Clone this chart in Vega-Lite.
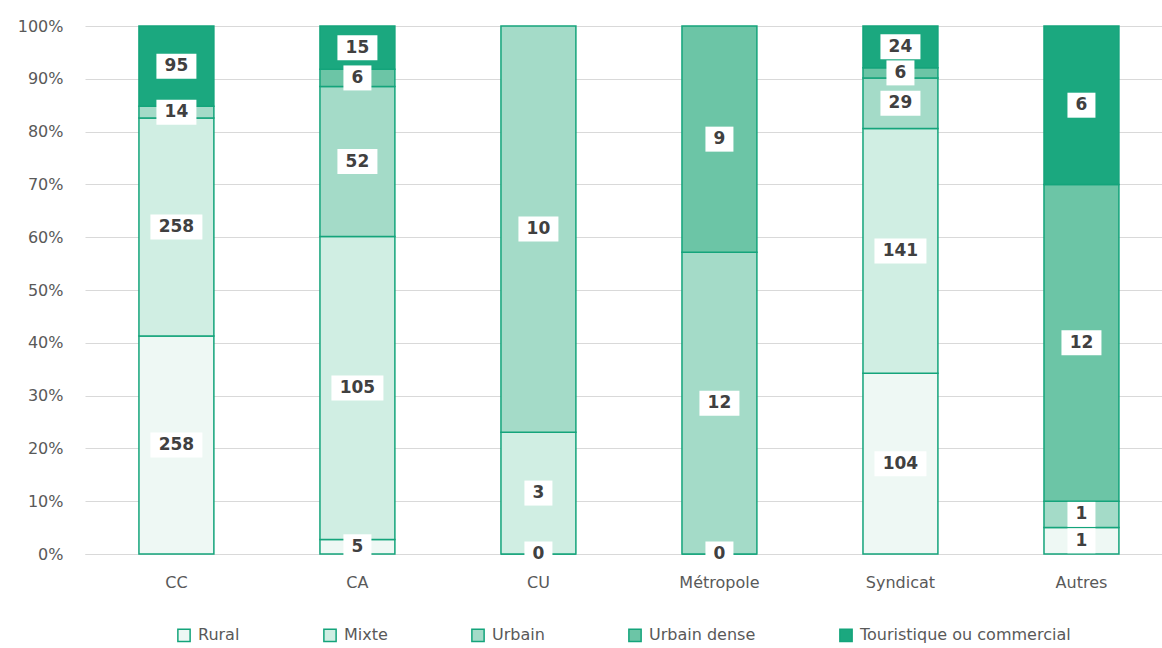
{
  "$schema": "https://vega.github.io/schema/vega-lite/v6.json",
  "width": 1077,
  "height": 528,
  "autosize": {"type": "none"},
  "padding": {"left": 85, "top": 26, "right": 0, "bottom": 94},
  "background": "white",
  "config": {
    "view": {"stroke": null},
    "font": "DejaVu Sans",
    "axis": {"labelFont": "DejaVu Sans", "labelColor": "#595959", "labelFontSize": 16}
  },
  "data": {
    "values": [
      {"type": "CC", "serie": "Rural", "ordre": 1, "value": 258},
      {"type": "CC", "serie": "Mixte", "ordre": 2, "value": 258},
      {"type": "CC", "serie": "Urbain", "ordre": 3, "value": 14},
      {"type": "CC", "serie": "Touristique ou commercial", "ordre": 5, "value": 95},
      {"type": "CA", "serie": "Rural", "ordre": 1, "value": 5},
      {"type": "CA", "serie": "Mixte", "ordre": 2, "value": 105},
      {"type": "CA", "serie": "Urbain", "ordre": 3, "value": 52},
      {"type": "CA", "serie": "Urbain dense", "ordre": 4, "value": 6},
      {"type": "CA", "serie": "Touristique ou commercial", "ordre": 5, "value": 15},
      {"type": "CU", "serie": "Rural", "ordre": 1, "value": 0},
      {"type": "CU", "serie": "Mixte", "ordre": 2, "value": 3},
      {"type": "CU", "serie": "Urbain", "ordre": 3, "value": 10},
      {"type": "Métropole", "serie": "Rural", "ordre": 1, "value": 0},
      {"type": "Métropole", "serie": "Urbain", "ordre": 3, "value": 12},
      {"type": "Métropole", "serie": "Urbain dense", "ordre": 4, "value": 9},
      {"type": "Syndicat", "serie": "Rural", "ordre": 1, "value": 104},
      {"type": "Syndicat", "serie": "Mixte", "ordre": 2, "value": 141},
      {"type": "Syndicat", "serie": "Urbain", "ordre": 3, "value": 29},
      {"type": "Syndicat", "serie": "Urbain dense", "ordre": 4, "value": 6},
      {"type": "Syndicat", "serie": "Touristique ou commercial", "ordre": 5, "value": 24},
      {"type": "Autres", "serie": "Rural", "ordre": 1, "value": 1},
      {"type": "Autres", "serie": "Urbain", "ordre": 3, "value": 1},
      {"type": "Autres", "serie": "Urbain dense", "ordre": 4, "value": 12},
      {"type": "Autres", "serie": "Touristique ou commercial", "ordre": 5, "value": 6}
    ]
  },
  "transform": [
    {"stack": "value", "groupby": ["type"], "sort": [{"field": "ordre", "order": "ascending"}], "offset": "normalize", "as": ["y0", "y1"]},
    {"calculate": "(datum.y0 + datum.y1) / 2", "as": "ymid"},
    {"calculate": "length(toString(datum.value))", "as": "nd"}
  ],
  "encoding": {
    "x": {
      "field": "type",
      "type": "nominal",
      "sort": ["CC", "CA", "CU", "Métropole", "Syndicat", "Autres"],
      "scale": {"paddingInner": 0.586, "paddingOuter": 0.268, "align": 0.556},
      "axis": {"title": null, "labelAngle": 0, "ticks": false, "domain": true, "domainColor": "#d9d9d9", "domainWidth": 1, "labelPadding": 20, "grid": false}
    }
  },
  "layer": [
    {
      "mark": {"type": "bar", "stroke": "#14A47B", "strokeWidth": 1.5},
      "encoding": {
        "y": {
          "field": "y0",
          "type": "quantitative",
          "scale": {"domain": [0, 1], "nice": false},
          "axis": {"title": null, "format": ".0%", "values": [0, 0.1, 0.2, 0.3, 0.4, 0.5, 0.6, 0.7, 0.8, 0.9, 1], "domain": false, "ticks": false, "labelPadding": 22, "gridColor": "#d9d9d9", "gridWidth": 1}
        },
        "y2": {"field": "y1"},
        "color": {
          "field": "serie",
          "type": "nominal",
          "scale": {
            "domain": ["Rural", "Mixte", "Urbain", "Urbain dense", "Touristique ou commercial"],
            "range": ["#eef8f4", "#d0eee3", "#a4dbc8", "#6cc5a6", "#1ba87f"]
          },
          "legend": {
            "title": null,
            "orient": "none",
            "legendX": 91,
            "legendY": 601,
            "direction": "horizontal",
            "columns": 5,
            "columnPadding": 80,
            "symbolType": "square",
            "symbolSize": 150,
            "symbolStrokeColor": "#14A47B",
            "symbolStrokeWidth": 1.5,
            "labelFont": "DejaVu Sans",
            "labelFontSize": 16,
            "labelColor": "#595959",
            "labelOffset": 6,
            "labelLimit": 400
          }
        }
      }
    },
    {
      "mark": {"type": "point", "filled": true, "fill": "white", "stroke": null, "opacity": 1, "size": 400},
      "encoding": {
        "y": {"field": "ymid", "type": "quantitative"},
        "shape": {
          "field": "nd",
          "type": "ordinal",
          "scale": {"domain": [1, 2, 3], "range": ["M-1.4,-1.25H1.4V1.25H-1.4Z", "M-2,-1.25H2V1.25H-2Z", "M-2.6,-1.25H2.6V1.25H-2.6Z"]},
          "legend": null
        }
      }
    },
    {
      "mark": {"type": "text", "fontWeight": "bold", "fontSize": 17, "color": "#404040", "font": "DejaVu Sans", "baseline": "middle"},
      "encoding": {
        "y": {"field": "ymid", "type": "quantitative"},
        "text": {"field": "value", "type": "quantitative"}
      }
    }
  ]
}
